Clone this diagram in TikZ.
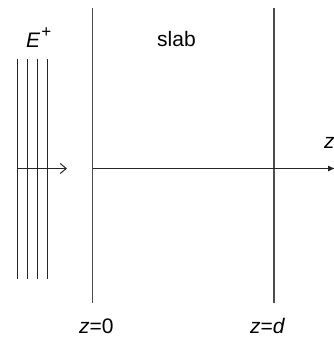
\documentclass[tikz,border=0pt]{standalone}
\usepackage{fontspec}
\setmainfont{Liberation Sans}
\usetikzlibrary{arrows.meta}

\tikzset{
  lbl/.style={inner sep=0pt, anchor=base west, font=\fontsize{21}{25}\selectfont},
  wave/.style={line width=1pt, black!85},
  face/.style={line width=1.3pt, black!70},
}

\begin{document}
\begin{tikzpicture}[x=1pt, y=-1pt]
    \useasboundingbox (0,0) rectangle (334,337);

    % incident wave fronts
    \foreach \x in {17,27,37,47}
        \draw[wave] (\x,59) -- (\x,279);
    \coordinate (src) at (17,168.5);
    \coordinate (tip) at (67,168.5);
    \draw[wave, -{Straight Barb[length=6pt, width=10pt]}] (src) -- (tip);
    \node[lbl] (eplus) at (26,48) {\textit{E}\hspace{1pt}\raisebox{10.5pt}{\fontsize{17}{17}\selectfont +}};

    % slab faces
    \draw[face] (92.7,8) coordinate (s0) -- (92.7,303) coordinate (b0);
    \draw[face] (274,8) coordinate (s1) -- (274,303) coordinate (b1);
    \node[lbl] (slab) at (157,46.7) {slab};

    % z axis
    \coordinate (o) at (92.7,168.5);
    \coordinate (zend) at (335,168.5);
    \draw[line width=1pt, black!85, -{Latex[length=7pt, width=6pt]}] (o) -- (zend);
    \node[lbl] (zlab) at (324,148) {\textit{z}};

    \node[lbl] (z0) at (79,333.5) {\textit{z}=0};
    \node[lbl] (zd) at (250,333.5) {\textit{z}=\textit{d}};
\end{tikzpicture}
\end{document}
